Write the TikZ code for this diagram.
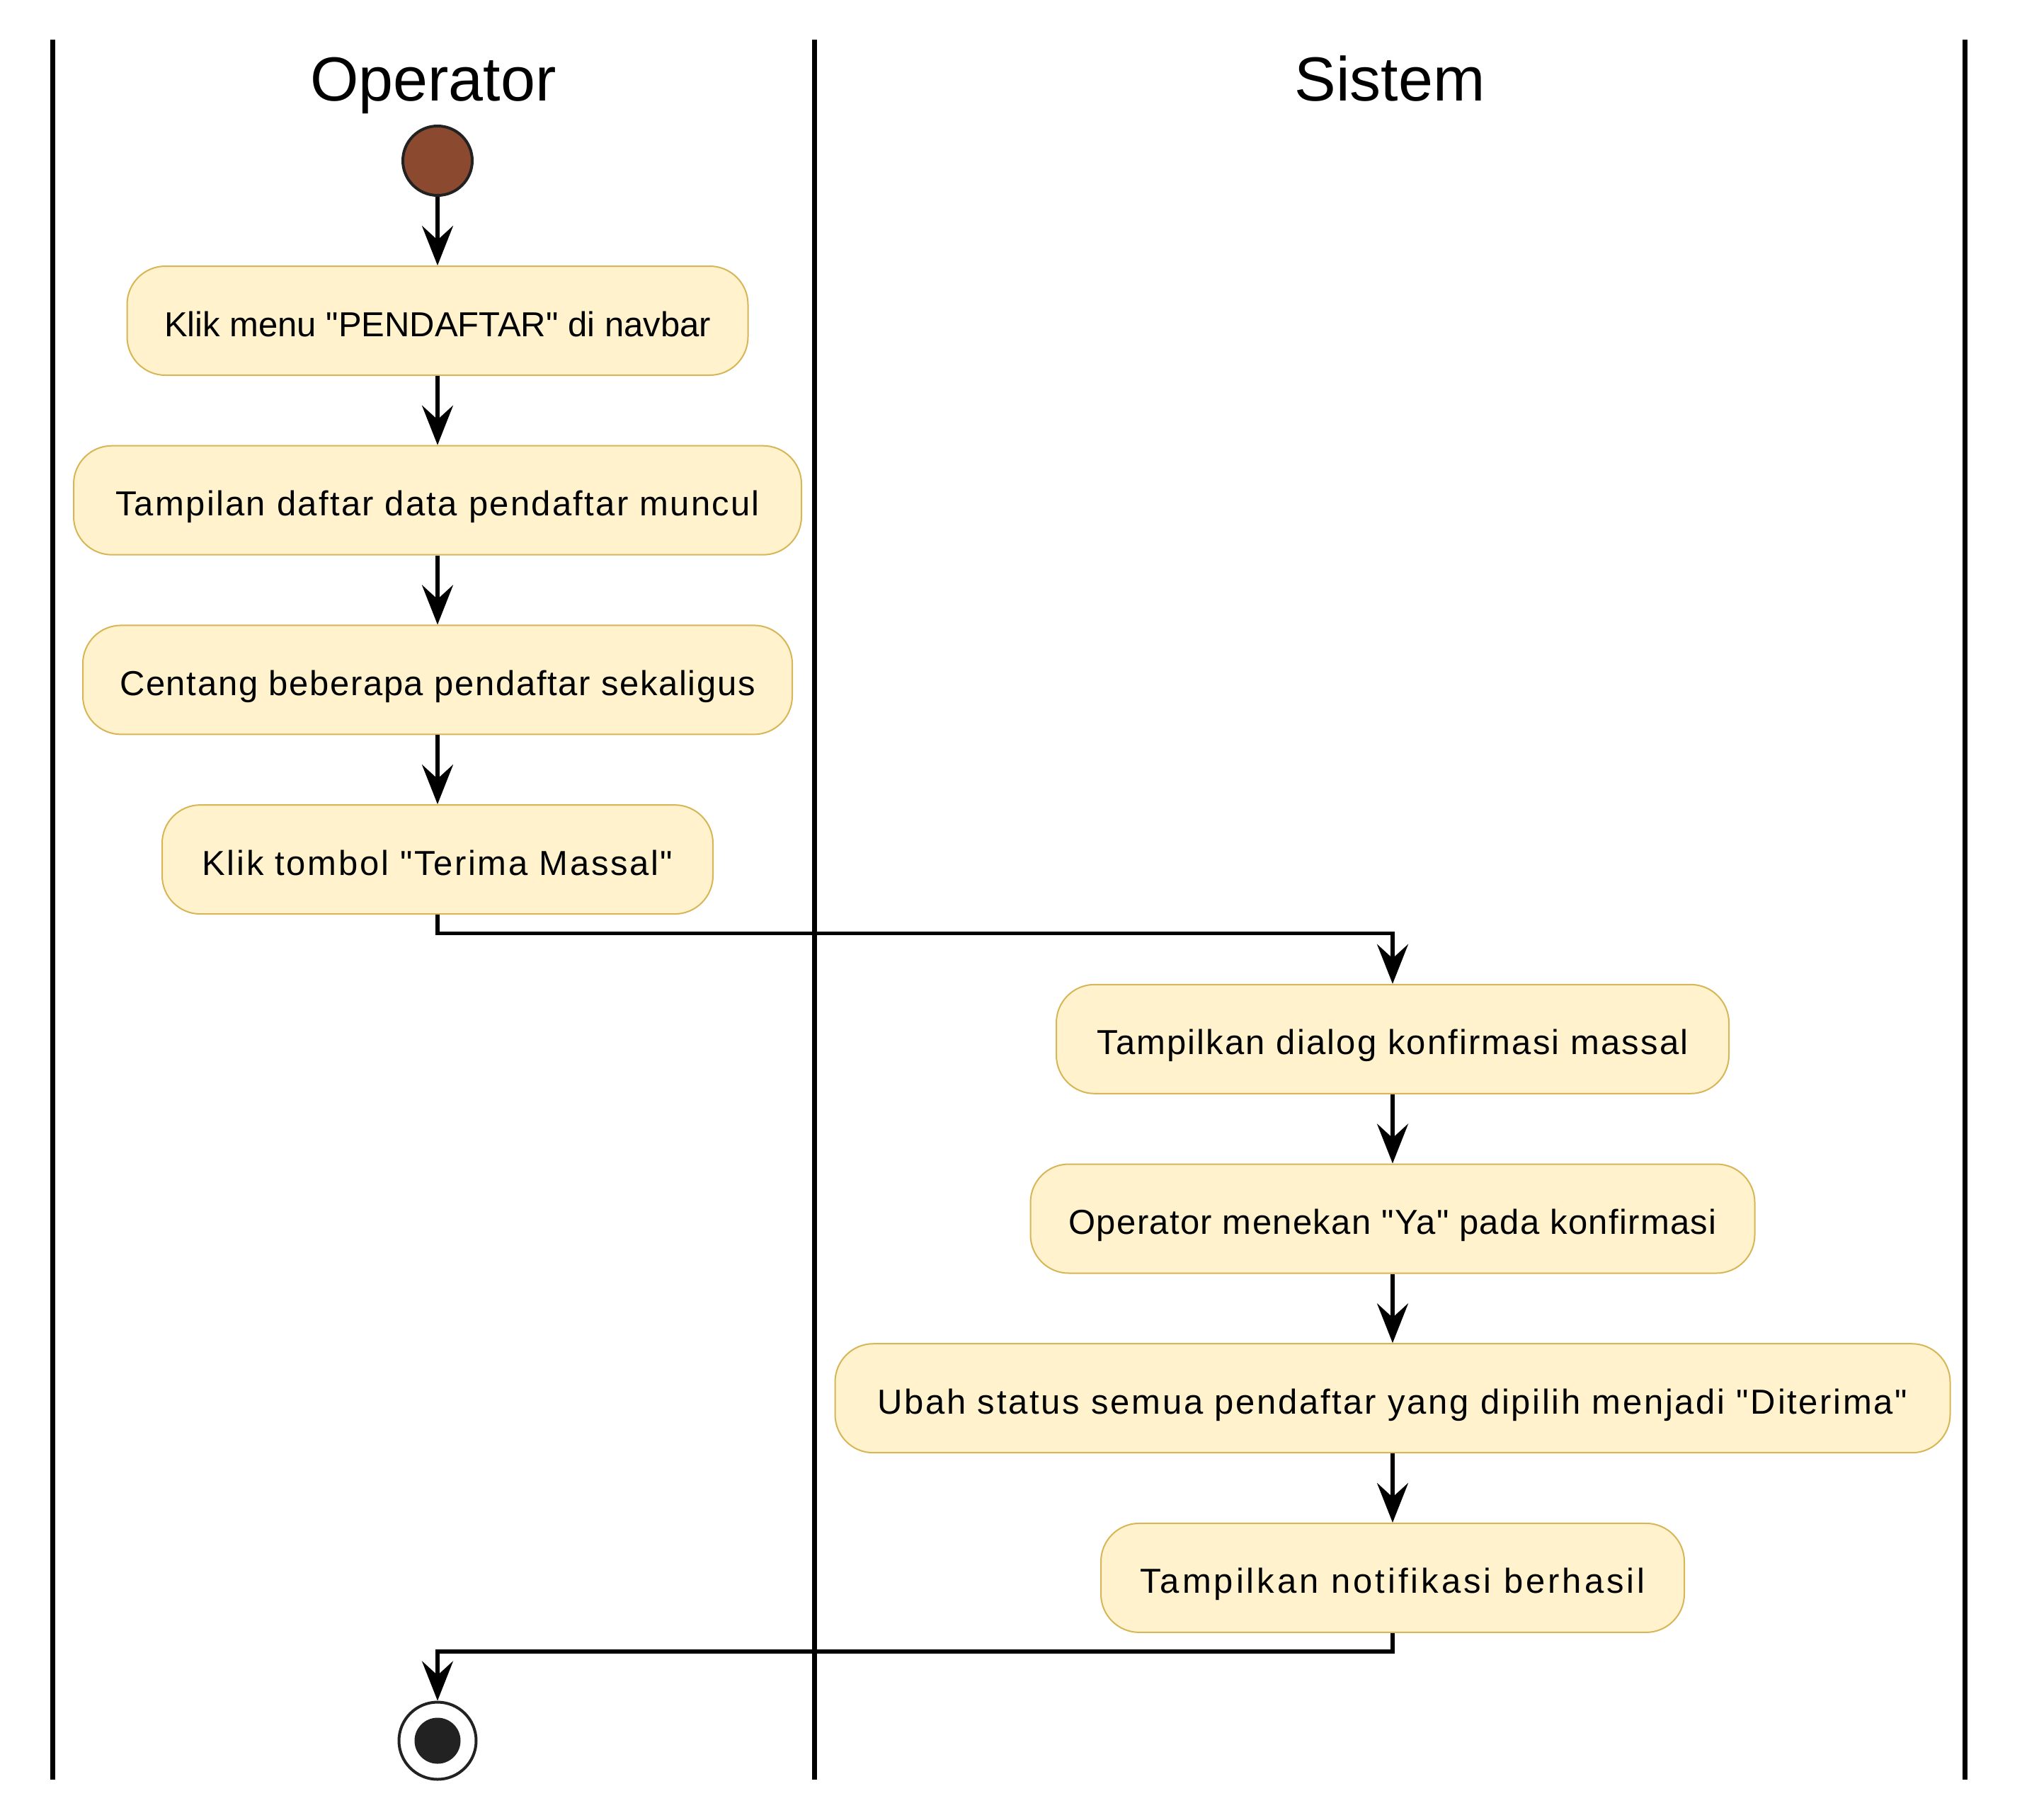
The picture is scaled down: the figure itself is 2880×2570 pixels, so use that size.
\documentclass[tikz,border=0pt]{standalone}
\usepackage{fontspec}
\setmainfont{Liberation Sans}[Ligatures=TeXOff]
\usetikzlibrary{positioning,arrows.meta}
\definecolor{actfill}{HTML}{FFF2CC}
\definecolor{actline}{HTML}{D6B656}
\definecolor{startbrown}{HTML}{8B4A2F}
\definecolor{ink}{HTML}{222222}

\begin{document}
\begin{tikzpicture}[x=0.5pt, y=-0.5pt,
    act/.style={rectangle, rounded corners=27pt, draw=actline, fill=actfill, line width=1pt,
        minimum height=77pt, inner sep=0pt, text height=23pt, text depth=1pt,
        font=\fontsize{24.5pt}{29pt}\selectfont},
    ls/.style={execute at begin node={\addfontfeatures{LetterSpace=#1}}},
    lane/.style={line width=3.5pt},
    title/.style={anchor=base, font=\fontsize{44pt}{52pt}\selectfont},
    flow/.style={line width=2.6pt, -{Stealth[length=28pt, width=22pt, inset=10pt]}}]
    \useasboundingbox (0,0) rectangle (2880,2570);

    % Swimlanes
    \foreach \x in {74,1150,2775} {
        \draw[lane] (\x,56) -- (\x,2514);
    }
    \node[title] (opTitle) at (612,142) {Operator};
    \node[title] (sysTitle) at (1963,142) {Sistem};

    % Operator lane
    \node[circle, draw=ink, fill=startbrown, line width=2pt, minimum size=49pt, inner sep=0pt] (start) at (618,227) {};
    \node[act, minimum width=438.5pt] (klik) at (618,453) {Klik menu "PENDAFTAR" di navbar};
    \node[act, ls=4.7, minimum width=514pt] (tampil) at (618,706.7) {Tampilan daftar data pendaftar muncul};
    \node[act, ls=3.4, minimum width=501pt] (centang) at (618,960.4) {Centang beberapa pendaftar sekaligus};
    \node[act, ls=5.4, minimum width=389pt] (terima) at (618,1214.1) {Klik tombol "Terima Massal"};

    % Sistem lane
    \node[act, ls=4.4, minimum width=475pt] (dialog) at (1967,1467.8) {Tampilkan dialog konfirmasi massal};
    \node[act, ls=2.7, minimum width=511.5pt] (tekan) at (1967,1721.5) {Operator menekan "Ya" pada konfirmasi};
    \node[act, ls=5.5, minimum width=787.5pt] (ubah) at (1967,1975.2) {Ubah status semua pendaftar yang dipilih menjadi "Diterima"};
    \node[act, ls=8.1, minimum width=412pt] (notif) at (1967,2228.9) {Tampilkan notifikasi berhasil};

    % End point
    \node[circle, draw=ink, line width=2pt, minimum size=54.5pt, inner sep=0pt] (stop) at (618,2459) {};
    \fill[ink] (stop.center) circle (16.25pt);

    % Flow
    \draw[flow] (start) -- (klik);
    \draw[flow] (klik) -- (tampil);
    \draw[flow] (tampil) -- (centang);
    \draw[flow] (centang) -- (terima);
    \draw[flow] (terima.south) -- ++(0,26) -| (dialog.north);
    \draw[flow] (dialog) -- (tekan);
    \draw[flow] (tekan) -- (ubah);
    \draw[flow] (ubah) -- (notif);
    \draw[flow] (notif.south) -- ++(0,26) -| (stop.north);
\end{tikzpicture}
\end{document}
